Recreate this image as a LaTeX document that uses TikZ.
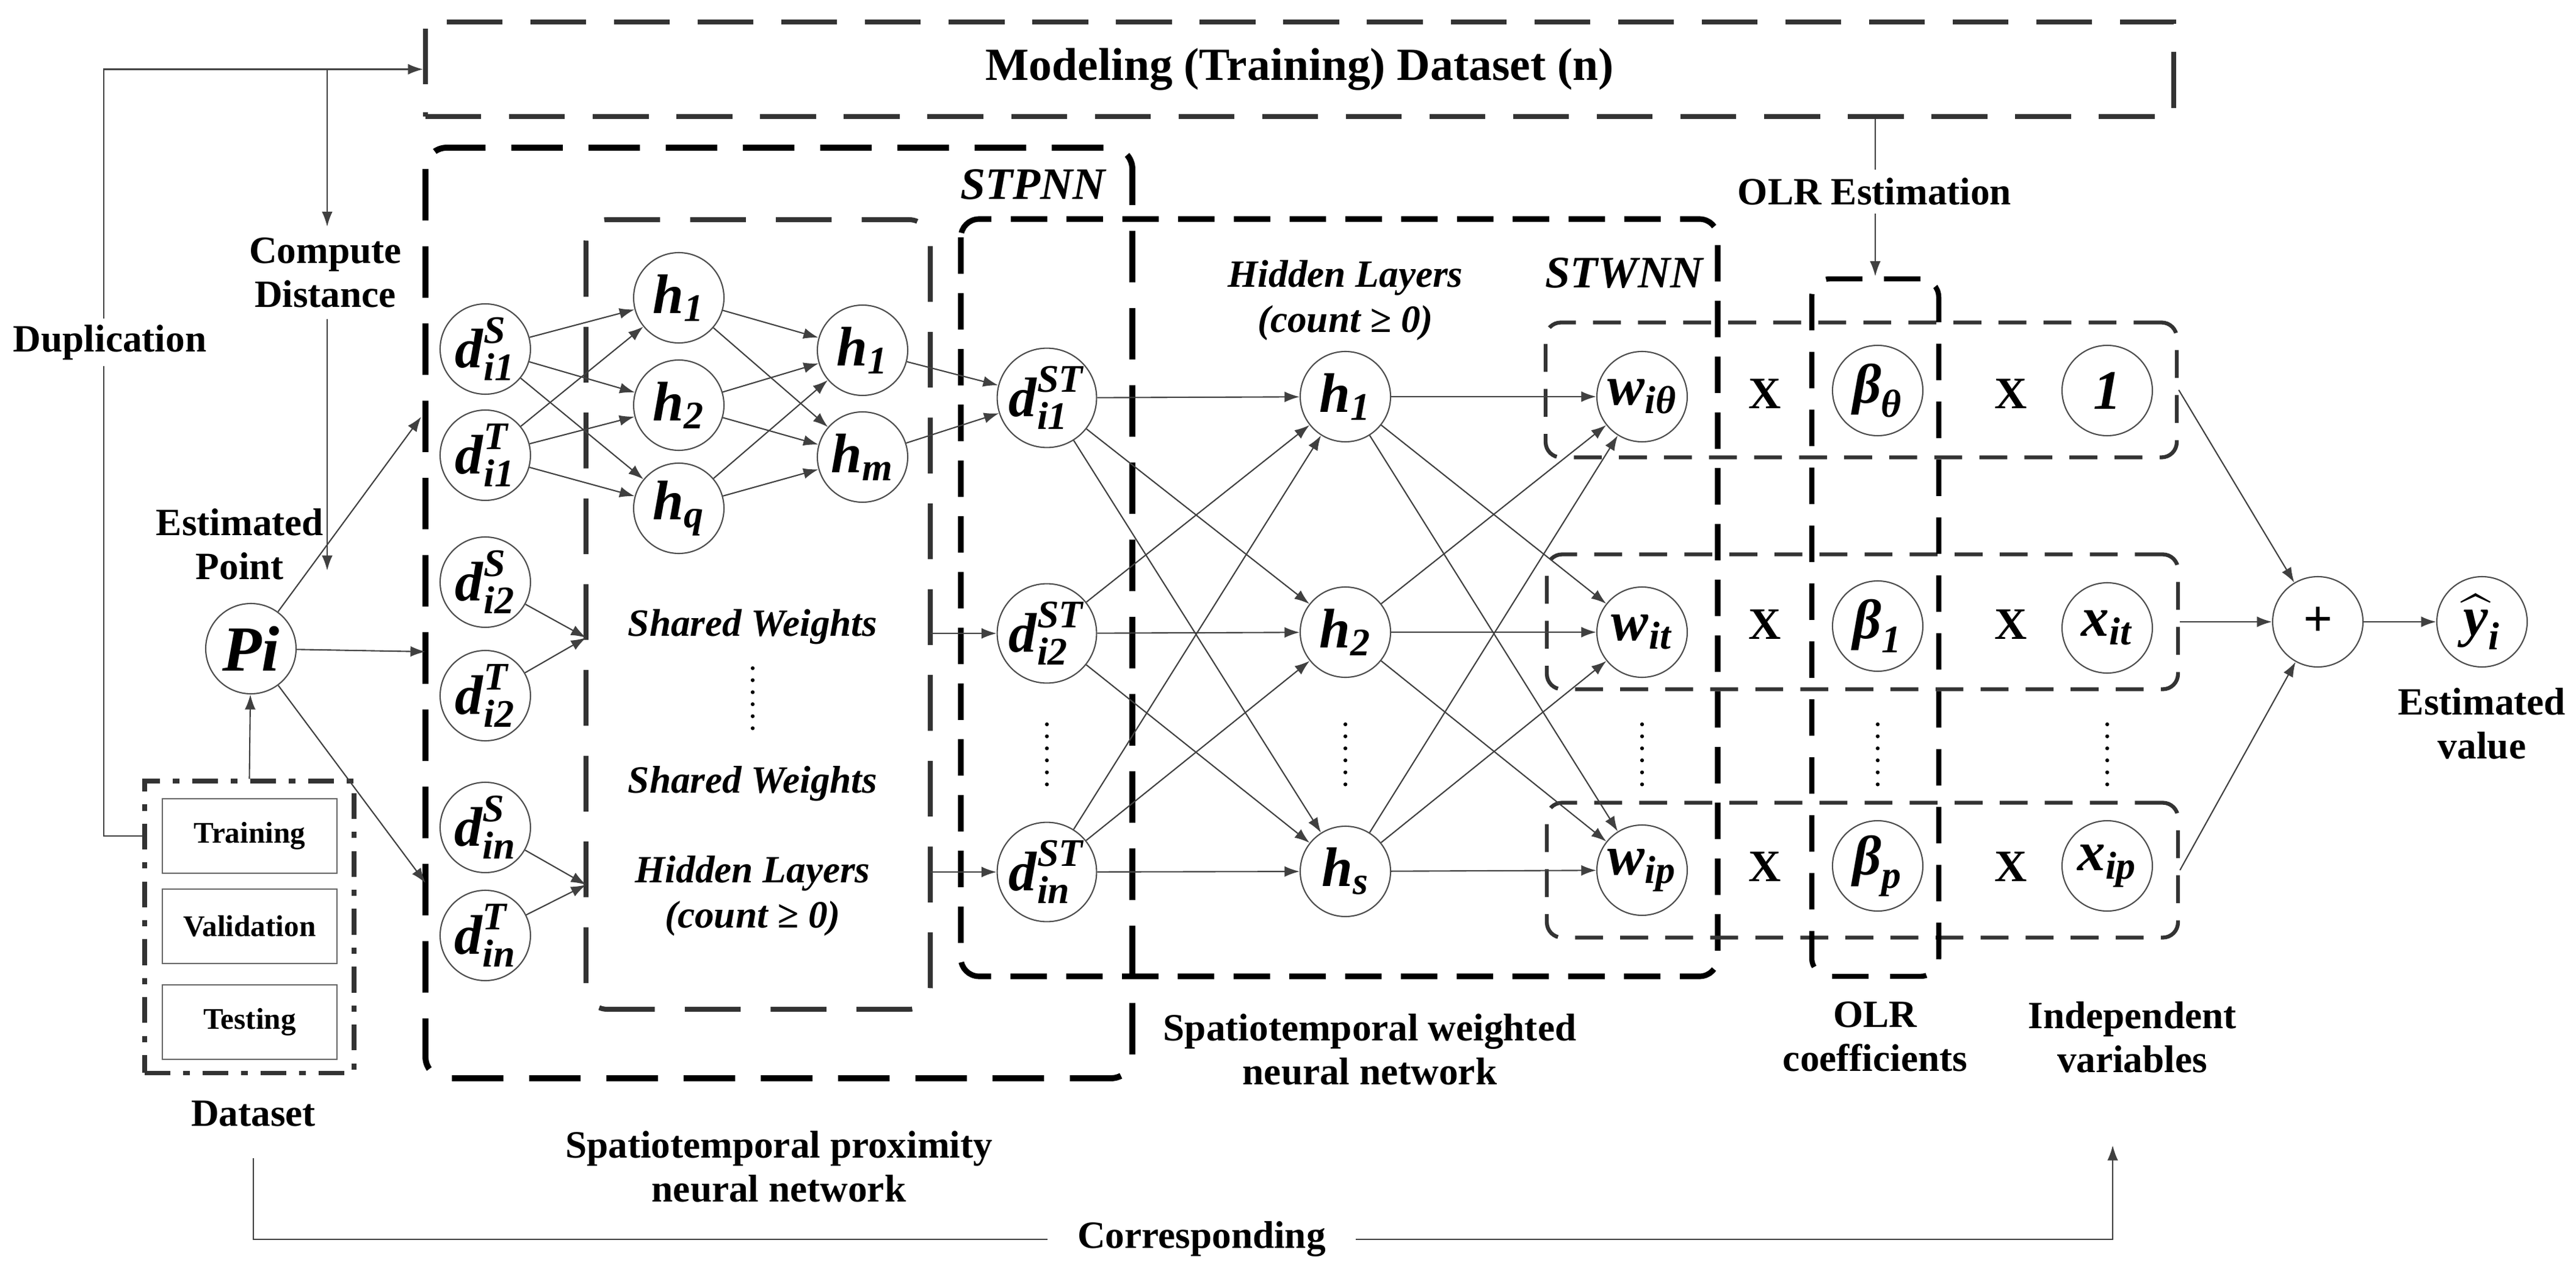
\documentclass[tikz,border=0pt]{standalone}
\usepackage{fontspec}
\setmainfont{Liberation Serif}
\usepackage{amsmath}
\usepackage{tikz}
\usetikzlibrary{arrows.meta}
\usetikzlibrary{calc}

\newcommand{\nm}[1]{\textbf{\textit{#1}}}

\begin{document}
\begin{tikzpicture}[x=1cm,y=-1cm,
  conn/.style={-{Latex[length=7pt,width=5pt]}, line width=0.6pt, draw=black!75},
  neuron/.style={circle, draw=black!70, line width=0.6pt, minimum size=1.48cm, inner sep=0pt, font=\fontsize{26}{28}\selectfont},
  lbl/.style={font=\fontsize{18}{20.5}\selectfont\bfseries, align=center, inner sep=1pt},
  ilbl/.style={font=\fontsize{18}{21}\selectfont\bfseries\itshape, align=center, inner sep=1pt},
  netlbl/.style={font=\fontsize{21}{24}\selectfont\bfseries\itshape},
  multlbl/.style={font=\fontsize{21}{24}\selectfont\bfseries},
  titlebox/.style={draw=black!80, line width=2.3pt, dash pattern=on 26pt off 13pt, minimum width=28.64cm, minimum height=1.55cm, font=\fontsize{21.5}{24}\selectfont\bfseries},
  stpnnbox/.style={draw=black, line width=2.8pt, dash pattern=on 24pt off 12pt, rounded corners=0.35cm},
  sharedbox/.style={draw=black!80, line width=2.3pt, dash pattern=on 26pt off 14pt, rounded corners=0.35cm},
  stwnnbox/.style={draw=black, line width=2.6pt, dash pattern=on 17pt off 9pt, rounded corners=0.3cm},
  olrbox/.style={draw=black, line width=2.4pt, dash pattern=on 17pt off 10pt, rounded corners=0.3cm, minimum width=2.08cm, minimum height=11.43cm},
  rowbox/.style={draw=black!80, line width=1.8pt, dash pattern=on 13pt off 8pt, rounded corners=0.25cm, minimum width=10.34cm, minimum height=2.21cm},
  dsbox/.style={draw=black!80, line width=2pt, dash pattern=on 12pt off 6pt on 3pt off 6pt, minimum width=3.43cm, minimum height=4.78cm},
  partbox/.style={draw=black!60, line width=0.8pt, minimum width=2.86cm, minimum height=1.22cm, font=\fontsize{14}{16}\selectfont\bfseries},
  dots/.style={line width=1.8pt, line cap=round, dash pattern=on 0pt off 5.6pt}]

\useasboundingbox (0,0) rectangle (42.2,20.96);

\node[titlebox] (title) at (21.29,1.135) {Modeling (Training) Dataset (n)};
\draw[stpnnbox] (6.97,2.42) rectangle (18.55,17.67);
\draw[sharedbox] (9.60,3.60) rectangle (15.24,16.54);
\draw[stwnnbox] (15.74,3.59) rectangle (28.14,16.00);
\node[rowbox] (rowA) at (30.49,6.39) {};
\node[rowbox] (rowB) at (30.51,10.19) {};
\node[rowbox] (rowC) at (30.51,14.26) {};
\node[olrbox] (olr) at (30.72,10.285) {};

\node[netlbl] (stpnn) at (16.92,3.02) {STPNN};
\node[netlbl] (stwnn) at (26.61,4.48) {STWNN};
\node[ilbl] (hidlbl) at (22.04,4.92) {Hidden Layers\\(count ≥ 0)};

% dataset
\node[dsbox] (dataset) at (4.085,15.19) {};
\node[partbox] (train) at (4.09,13.70) {Training};
\node[partbox] (valid) at (4.09,15.18) {Validation};
\node[partbox] (test) at (4.09,16.75) {Testing};
\node[lbl] (dslbl) at (4.15,18.25) {Dataset};

\node[neuron, font=\fontsize{30}{32}\selectfont] (pi) at (4.11,10.63) {\nm{Pi}};
\node[lbl] (eplbl) at (3.93,8.92) {Estimated\\Point};
\node[lbl] (cdlbl) at (5.33,4.47) {Compute\\Distance};
\node[lbl, fill=white] (duplbl) at (1.80,5.61) {Duplication};

% distances
\node[neuron] (dS1) at (7.95,5.72) {$\nm{d}^{\nm{S}}_{\nm{i1}}$};
\node[neuron] (dT1) at (7.95,7.46) {$\nm{d}^{\nm{T}}_{\nm{i1}}$};
\node[neuron] (dS2) at (7.95,9.54) {$\nm{d}^{\nm{S}}_{\nm{i2}}$};
\node[neuron] (dT2) at (7.95,11.40) {$\nm{d}^{\nm{T}}_{\nm{i2}}$};
\node[neuron] (dSn) at (7.95,13.56) {$\nm{d}^{\nm{S}}_{\nm{in}}$};
\node[neuron] (dTn) at (7.95,15.33) {$\nm{d}^{\nm{T}}_{\nm{in}}$};

\node[neuron] (ha1) at (11.12,4.88) {$\nm{h}_{\nm{1}}$};
\node[neuron] (ha2) at (11.12,6.64) {$\nm{h}_{\nm{2}}$};
\node[neuron] (ha3) at (11.12,8.33) {$\nm{h}_{\nm{q}}$};
\node[neuron] (hb1) at (14.13,5.74) {$\nm{h}_{\nm{1}}$};
\node[neuron] (hb2) at (14.13,7.49) {$\nm{h}_{\nm{m}}$};

\node[ilbl] (sw1) at (12.33,10.27) {Shared Weights};
\draw[dots] (12.33,10.95) -- (12.33,11.95);
\node[ilbl] (sw2) at (12.33,12.84) {Shared Weights};
\node[ilbl] (hidlbl2) at (12.33,14.68) {Hidden Layers\\(count ≥ 0)};

\node[neuron] (dst1) at (17.15,6.52) {$\nm{d}^{\nm{ST}}_{\nm{i1}}$};
\node[neuron] (dst2) at (17.15,10.38) {$\nm{d}^{\nm{ST}}_{\nm{i2}}$};
\node[neuron] (dstn) at (17.15,14.29) {$\nm{d}^{\nm{ST}}_{\nm{in}}$};
\draw[dots] (17.15,11.87) -- (17.15,12.87);

\node[neuron] (hc1) at (22.04,6.50) {$\nm{h}_{\nm{1}}$};
\node[neuron] (hc2) at (22.04,10.36) {$\nm{h}_{\nm{2}}$};
\node[neuron] (hc3) at (22.04,14.28) {$\nm{h}_{\nm{s}}$};
\draw[dots] (22.04,11.87) -- (22.04,12.87);

% weights and OLR terms
\node[neuron] (w0) at (26.90,6.50) {$\nm{w}_{\nm{iθ}}$};
\node[neuron] (w1) at (26.90,10.36) {$\nm{w}_{\nm{it}}$};
\node[neuron] (wp) at (26.90,14.26) {$\nm{w}_{\nm{ip}}$};
\draw[dots] (26.90,11.87) -- (26.90,12.87);

\node[neuron] (b0) at (30.76,6.40) {$\nm{β}_{\nm{θ}}$};
\node[neuron] (b1) at (30.76,10.26) {$\nm{β}_{\nm{1}}$};
\node[neuron] (bp) at (30.76,14.19) {$\nm{β}_{\nm{p}}$};
\draw[dots] (30.76,11.87) -- (30.76,12.87);

\node[neuron] (x0) at (34.52,6.40) {\nm{1}};
\node[neuron] (x1) at (34.52,10.29) {$\nm{x}_{\nm{it}}$};
\node[neuron] (xp) at (34.52,14.19) {$\nm{x}_{\nm{ip}}$};
\draw[dots] (34.52,11.87) -- (34.52,12.87);

\foreach \r/\y in {A/6.45,B/10.23,C/14.20} {
  \node[multlbl] (mulA\r) at (28.91,\y) {X};
  \node[multlbl] (mulB\r) at (32.94,\y) {X};
}

\node[neuron, font=\fontsize{24}{26}\selectfont] (plus) at (37.97,10.19) {\bfseries +};
\node[neuron] (yhat) at (40.66,10.19) {$\widehat{\nm{y}}_{\nm{i}}$};
\node[lbl] (evlbl) at (40.66,11.86) {Estimated\\value};

\node[lbl] (olrlbl) at (30.72,16.99) {OLR\\coefficients};
\node[lbl] (ivlbl) at (34.93,17.00) {Independent\\variables};
\node[lbl] (stpnnlbl) at (12.76,19.12) {Spatiotemporal proximity\\neural network};
\node[lbl] (stwnnlbl) at (22.44,17.20) {Spatiotemporal weighted\\neural network};

% connectors
\coordinate (dupA) at (1.70,1.135);
\coordinate (cdA) at (5.36,1.135);
\coordinate (cdB) at (5.36,9.35);
\coordinate (pA) at (6.90,6.83);
\coordinate (pB) at (6.97,10.68);
\coordinate (pC) at (6.97,14.47);
\coordinate (sin2) at (9.60,10.45);
\coordinate (sinn) at (9.60,14.50);
\coordinate (sout2) at (15.24,10.38);
\coordinate (soutn) at (15.24,14.29);
\coordinate (corrA) at (4.15,18.98);
\coordinate (corrC) at (34.61,20.31);
\coordinate (corrB) at (34.61,18.77);

\draw[conn] (train -| dataset.west) -| (dupA) -- (title.west);
\draw[conn] (cdA) -- ([yshift=4pt]cdlbl.north -| cdA);
\draw[conn] ([yshift=-4pt]cdlbl.south -| cdA) -- (cdB);
\node[lbl, fill=white, inner sep=3pt] at (duplbl) {Duplication};
\draw[conn] (dataset.north) -- (pi);
\draw[conn] (pi) -- (pA);
\draw[conn] (pi) -- (pB);
\draw[conn] (pi) -- (pC);

\foreach \a in {dS1,dT1}
  \foreach \b in {ha1,ha2,ha3}
    \draw[conn] (\a) -- (\b);
\foreach \a in {ha1,ha2,ha3}
  \foreach \b in {hb1,hb2}
    \draw[conn] (\a) -- (\b);
\foreach \a in {hb1,hb2}
  \draw[conn] (\a) -- (dst1);
\foreach \a in {dS2,dT2}
  \draw[conn] (\a) -- (sin2);
\foreach \a in {dSn,dTn}
  \draw[conn] (\a) -- (sinn);
\draw[conn] (sout2) -- (dst2);
\draw[conn] (soutn) -- (dstn);

\foreach \a in {dst1,dst2,dstn}
  \foreach \b in {hc1,hc2,hc3}
    \draw[conn] (\a) -- (\b);
\foreach \a in {hc1,hc2,hc3}
  \foreach \b in {w0,w1,wp}
    \draw[conn] (\a) -- (\b);

\draw[conn] (title.south -| olr.north) -- (olr.north);
\node[lbl, fill=white, inner sep=4pt] (olrest) at (30.71,3.14) {OLR Estimation};

\draw[conn] (rowA.east) -- (plus);
\draw[conn] (rowB.east) -- (plus);
\draw[conn] (rowC.east) -- (plus);
\draw[conn] (plus) -- (yhat);

\draw[conn] (corrA) |- node[pos=0.755, lbl, fill=white, inner xsep=14pt] {Corresponding} (corrC) -- (corrB);

\end{tikzpicture}
\end{document}
